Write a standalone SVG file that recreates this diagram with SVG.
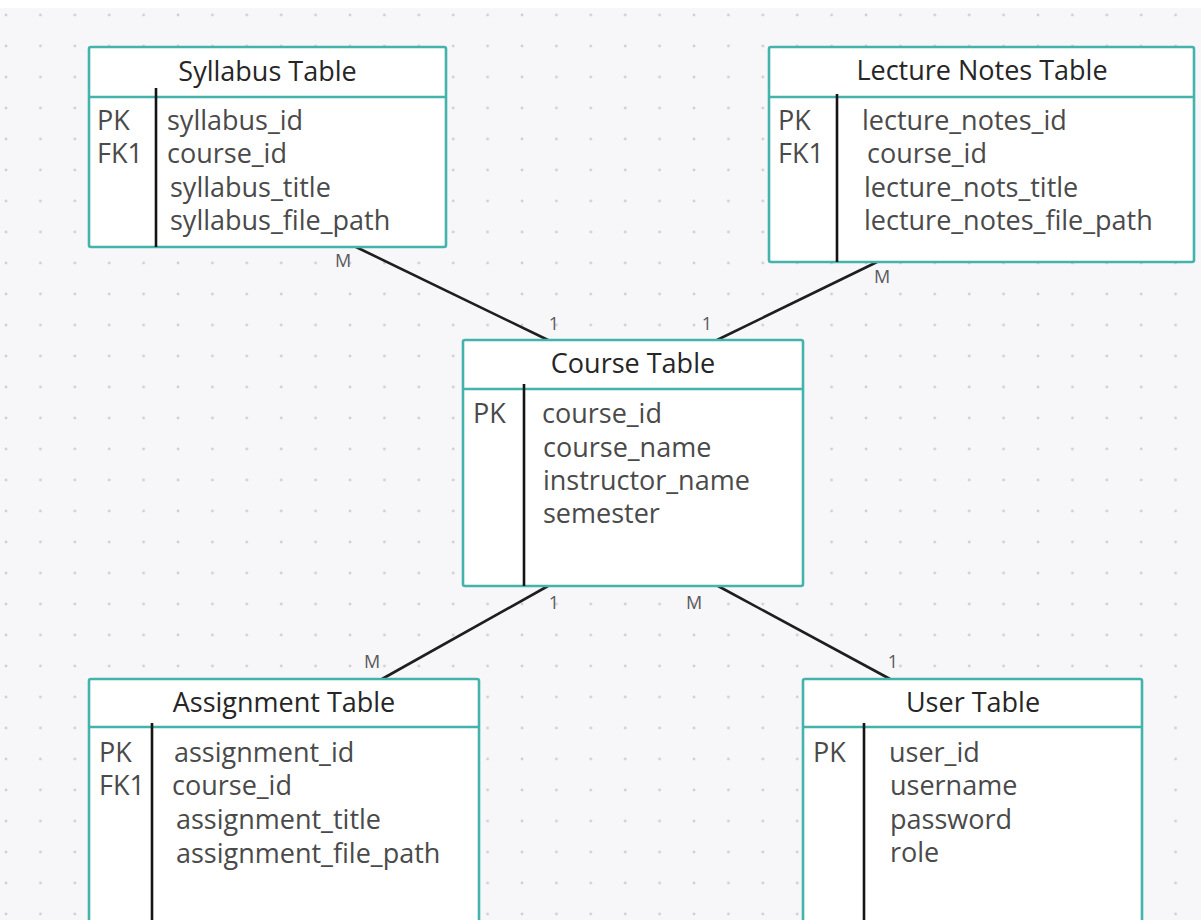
<svg xmlns="http://www.w3.org/2000/svg" width="1201" height="920" viewBox="0 0 1201 920">
  <defs>
    <pattern id="dots" x="3" y="0" width="34.4" height="31" patternUnits="userSpaceOnUse">
      <circle cx="3" cy="15" r="1.4" fill="#cfcfd5"/>
    </pattern>
    <style>
      .box{fill:#ffffff;stroke:#44b3ab;stroke-width:2.6}
      .div{stroke:#44b3ab;stroke-width:2.6}
      .sep{stroke:#141414;stroke-width:2.6}
      .title{font-family:"Open Sans","Noto Sans",sans-serif;font-size:27px;fill:#262626;text-anchor:middle}
      .f{font-family:"Open Sans","Noto Sans",sans-serif;font-size:27px;fill:#4a4a4a}
      .lbl{font-family:"Open Sans","Noto Sans",sans-serif;font-size:18px;fill:#5a5a5a;text-anchor:middle}
      .conn line{stroke:#1e1e1e;stroke-width:2.6}
    </style>
  </defs>
  <rect x="0" y="0" width="1201" height="920" fill="#f7f7fa"/>
  <rect x="0" y="0" width="1201" height="920" fill="url(#dots)"/>
  <rect x="0" y="0" width="1201" height="8" fill="#ffffff"/>

  <g id="connectors" class="conn">
    <line x1="356" y1="247" x2="548" y2="340"/>
    <line x1="877" y1="262" x2="717" y2="340"/>
    <line x1="548" y1="586" x2="382" y2="679"/>
    <line x1="718" y1="586" x2="890" y2="679"/>
    <text class="lbl" x="343" y="267">M</text>
    <text class="lbl" x="554" y="330">1</text>
    <text class="lbl" x="882" y="283">M</text>
    <text class="lbl" x="707" y="330">1</text>
    <text class="lbl" x="554" y="609">1</text>
    <text class="lbl" x="372" y="668">M</text>
    <text class="lbl" x="694" y="609">M</text>
    <text class="lbl" x="893" y="668">1</text>
  </g>

  <g id="syllabus">
    <rect class="box" x="89" y="47" width="357" height="200" rx="2"/>
    <line class="div" x1="89" y1="97" x2="446" y2="97"/>
    <line class="sep" x1="156" y1="88" x2="156" y2="247"/>
    <text class="title" x="267.5" y="81">Syllabus Table</text>
    <text class="f" x="97" y="130">PK</text>
    <text class="f" x="97" y="163">FK1</text>
    <text class="f" x="167" y="130">syllabus_id</text>
    <text class="f" x="167" y="163">course_id</text>
    <text class="f" x="170" y="197">syllabus_title</text>
    <text class="f" x="170" y="230">syllabus_file_path</text>
  </g>

  <g id="lecture_notes">
    <rect class="box" x="769" y="47" width="425" height="215" rx="2"/>
    <line class="div" x1="769" y1="97" x2="1194" y2="97"/>
    <line class="sep" x1="837" y1="94" x2="837" y2="262"/>
    <text class="title" x="982" y="80">Lecture Notes Table</text>
    <text class="f" x="778" y="130">PK</text>
    <text class="f" x="778" y="163">FK1</text>
    <text class="f" x="862" y="130">lecture_notes_id</text>
    <text class="f" x="867" y="163">course_id</text>
    <text class="f" x="864" y="197">lecture_nots_title</text>
    <text class="f" x="864" y="230">lecture_notes_file_path</text>
  </g>

  <g id="course">
    <rect class="box" x="463" y="340" width="340" height="246" rx="2"/>
    <line class="div" x1="463" y1="389" x2="803" y2="389"/>
    <line class="sep" x1="524" y1="384" x2="524" y2="586"/>
    <text class="title" x="633" y="373">Course Table</text>
    <text class="f" x="473" y="423">PK</text>
    <text class="f" x="542" y="423">course_id</text>
    <text class="f" x="543" y="457">course_name</text>
    <text class="f" x="543" y="490">instructor_name</text>
    <text class="f" x="543" y="523">semester</text>
  </g>

  <g id="assignment">
    <rect class="box" x="89" y="679" width="390" height="260" rx="2"/>
    <line class="div" x1="89" y1="727" x2="479" y2="727"/>
    <line class="sep" x1="152" y1="723" x2="152" y2="930"/>
    <text class="title" x="284" y="712">Assignment Table</text>
    <text class="f" x="99" y="762">PK</text>
    <text class="f" x="99" y="795">FK1</text>
    <text class="f" x="174" y="762">assignment_id</text>
    <text class="f" x="172" y="795">course_id</text>
    <text class="f" x="176" y="829">assignment_title</text>
    <text class="f" x="176" y="863">assignment_file_path</text>
  </g>

  <g id="user">
    <rect class="box" x="803" y="679" width="339" height="260" rx="2"/>
    <line class="div" x1="803" y1="727" x2="1142" y2="727"/>
    <line class="sep" x1="864" y1="723" x2="864" y2="930"/>
    <text class="title" x="973" y="712">User Table</text>
    <text class="f" x="813" y="762">PK</text>
    <text class="f" x="889" y="762">user_id</text>
    <text class="f" x="890" y="795">username</text>
    <text class="f" x="890" y="829">password</text>
    <text class="f" x="890" y="862">role</text>
  </g>
</svg>
